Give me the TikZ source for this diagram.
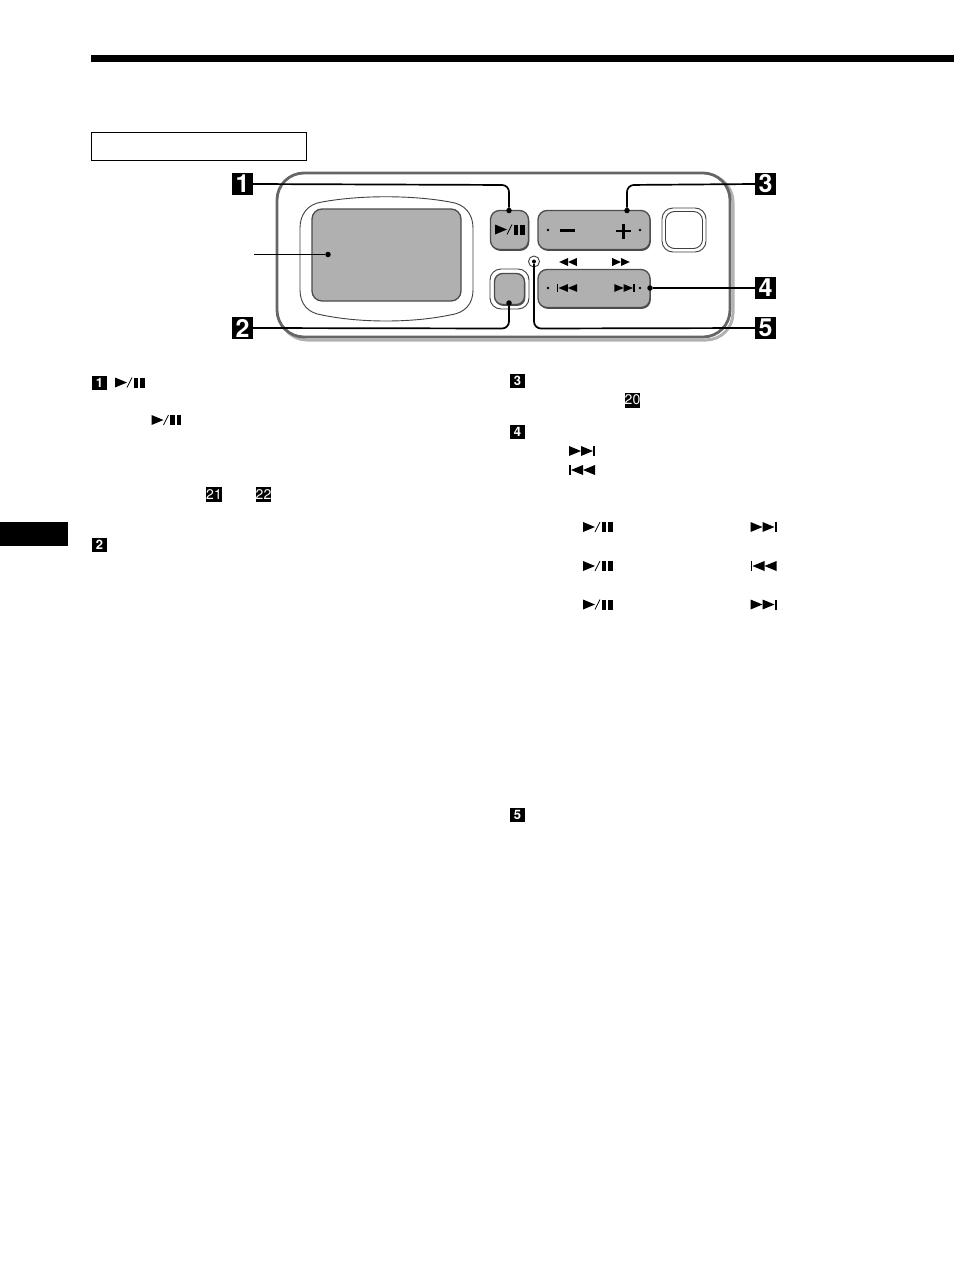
\documentclass[tikz,border=0pt]{standalone}
\usepackage{fontspec}
\setmainfont{TeX Gyre Heros}
\usepackage{tikz}
\usetikzlibrary{positioning,shadows}
\definecolor{btngray}{gray}{0.69}
\tikzstyle{badge}=[fill=black, text=white, font=\bfseries\fontsize{25}{25}\selectfont, inner sep=0pt, minimum width=21pt, minimum height=22pt]
\tikzstyle{tag}=[fill=black, text=white, font=\bfseries\fontsize{13}{13}\selectfont, inner sep=0pt, minimum width=15pt, minimum height=14pt]
\tikzstyle{tag2}=[tag, minimum height=15pt, font=\fontsize{14}{14}\selectfont]
\tikzstyle{btn}=[draw=black!70, fill=btngray, line width=1.3pt, rounded corners=9pt, inner sep=0pt, drop shadow={shadow xshift=0.8pt, shadow yshift=-1.4pt, fill=black!70, opacity=1}]
\tikzstyle{ring}=[draw=black!75, fill=white, line width=0.9pt, inner sep=0pt]
\tikzstyle{dot}=[circle, fill=black, inner sep=0pt, minimum size=5.5pt]
\tikzstyle{pinhole}=[circle, fill=black, inner sep=0pt, minimum size=2.6pt]
\tikzstyle{lead}=[line width=1.7pt, rounded corners=7pt]
\tikzset{
  playpause/.pic={
    \fill (-15,-5) -- (-15,5) -- (-3,0) -- cycle;
    \draw[line width=0.8pt] (-3,5) -- (2,-5);
    \fill (3.5,-5) rectangle (8,5);
    \fill (10,-5) rectangle (14.5,5);
  },
  nexttrack/.pic={
    \fill (-13,-5) -- (-13,5) -- (-1,0) -- cycle;
    \fill (-1,-5) -- (-1,5) -- (11,0) -- cycle;
    \fill (11.3,-5) rectangle (13,5);
  },
  prevtrack/.pic={
    \fill (13,-5) -- (13,5) -- (1,0) -- cycle;
    \fill (1,-5) -- (1,5) -- (-11,0) -- cycle;
    \fill (-11.3,-5) rectangle (-13,5);
  },
  fastfwd/.pic={
    \fill (-11,-5) -- (-11,5) -- (0,0) -- cycle;
    \fill (0,-5) -- (0,5) -- (11,0) -- cycle;
  },
  rewind/.pic={
    \fill (11,-5) -- (11,5) -- (0,0) -- cycle;
    \fill (0,-5) -- (0,5) -- (-11,0) -- cycle;
  }
}

\begin{document}
\begin{tikzpicture}[x=1pt,y=-1pt]
\useasboundingbox (0,0) rectangle (954,1274);

% page furniture
\fill (91,55) rectangle (954,62);
\fill (0,522) rectangle (68,546);
\draw[line width=1.2pt] (91.5,132.5) rectangle (306.5,160.5);

% device body
\draw[black!30, line width=3pt, rounded corners=27pt] (280,175) rectangle (733,340);
\draw[black!60, fill=white, line width=2.8pt, rounded corners=27pt] (277,173) rectangle (730,337);

% display
\draw[black!75, fill=white, line width=0.9pt] (322,202) .. controls (360,195) and (412,195) .. (450,202)
  .. controls (465,204) and (473,214) .. (473,228) -- (473,290)
  .. controls (473,304) and (465,313) .. (450,315)
  .. controls (412,323) and (360,323) .. (322,315)
  .. controls (308,313) and (300,304) .. (300,290) -- (300,228)
  .. controls (300,214) and (308,204) .. (322,202) -- cycle;
\node[draw=black!70, fill=btngray, line width=1.3pt, rounded corners=10pt, minimum width=149pt, minimum height=92pt, inner sep=0pt] (display) at (386.5,255) {};

% buttons
\node[btn, minimum width=38pt, minimum height=39pt] (play) at (509.5,230) {};
\node[btn, minimum width=112pt, minimum height=39pt] (volume) at (594,230) {};
\node[ring, rounded corners=11pt, minimum width=44pt, minimum height=44pt] (powerout) at (684,230) {};
\node[ring, rounded corners=9pt, minimum width=37pt, minimum height=37pt] (powerin) at (684,230) {};
\node[ring, rounded corners=11pt, minimum width=39pt, minimum height=40pt] (stopout) at (509.5,289) {};
\node[btn, rounded corners=8pt, minimum width=30pt, minimum height=31pt] (stop) at (509.5,289) {};
\node[btn, minimum width=112pt, minimum height=38pt] (skip) at (594,288.5) {};
\node[circle, draw=black!75, fill=white, line width=0.9pt, minimum size=11pt, inner sep=0pt] (led) at (534,261.5) {};

% button marks
\pic at (510,229.5) {playpause};
\node[pinhole] (volleft) at (548,230) {};
\node[pinhole] (volright) at (640,230) {};
\node[pinhole] (skipleft) at (548,288) {};
\node[pinhole] (skipright) at (640,288) {};
\draw[line width=2.2pt] (560,230.5) -- (575,230.5);
\draw[line width=2.2pt] (616,231) -- (631,231) (623.5,223.5) -- (623.5,238.5);
\pic[scale=0.77] at (567,288) {prevtrack};
\pic[scale=0.77] at (624.5,288) {nexttrack};
\pic[scale=0.8] at (568,262) {rewind};
\pic[scale=0.8] at (621,262) {fastfwd};

% big number tags
\node[badge] (one) at (242.5,184) {1};
\node[badge] (two) at (242.5,328) {2};
\node[badge] (three) at (765.5,184) {3};
\node[badge] (four) at (765.5,288) {4};
\node[badge] (five) at (765.5,328) {5};

% leaders
\node[dot] (dplay) at (509,210.5) {};
\node[dot] (dstop) at (509,303) {};
\node[dot] (dvol) at (627,210.5) {};
\node[dot] (dskip) at (650,288) {};
\node[dot, minimum size=4pt] (dled) at (534,261.5) {};
\node[dot] (ddisplay) at (328,254.5) {};
\coordinate (free) at (254,254.5);
\draw[lead] (one.east) -- (509,185) -- (dplay);
\draw[lead] (two.east) -- (509,328.5) -- (dstop);
\draw[lead] (three.west) -- (627,185) -- (dvol);
\draw[lead] (four.west) -- (dskip);
\draw[lead] (five.west) -- (534,328.5) -- (dled);
\draw[lead] (free) -- (ddisplay);

% left column
\node[tag] (a1) at (99.5,383) {1};
\pic at (130,382.5) {playpause};
\pic at (166.5,420) {playpause};
\node[tag2] (a21) at (214,494.5) {21};
\node[tag2] (a22) at (263.5,494.5) {22};
\node[tag] (a2) at (99.5,545) {2};

% right column
\node[tag] (b3) at (517.5,381) {3};
\node[tag2] (b20) at (632.5,400) {20};
\node[tag] (b4) at (517.5,432) {4};
\pic at (582,451) {nexttrack};
\pic at (582,470) {prevtrack};
\pic at (598,527) {playpause};
\pic at (598,566) {playpause};
\pic at (598,604.5) {playpause};
\pic at (763.5,527) {nexttrack};
\pic at (763.5,566) {prevtrack};
\pic at (763.5,604.5) {nexttrack};
\node[tag] (b5) at (517.5,815) {5};
\end{tikzpicture}
\end{document}
